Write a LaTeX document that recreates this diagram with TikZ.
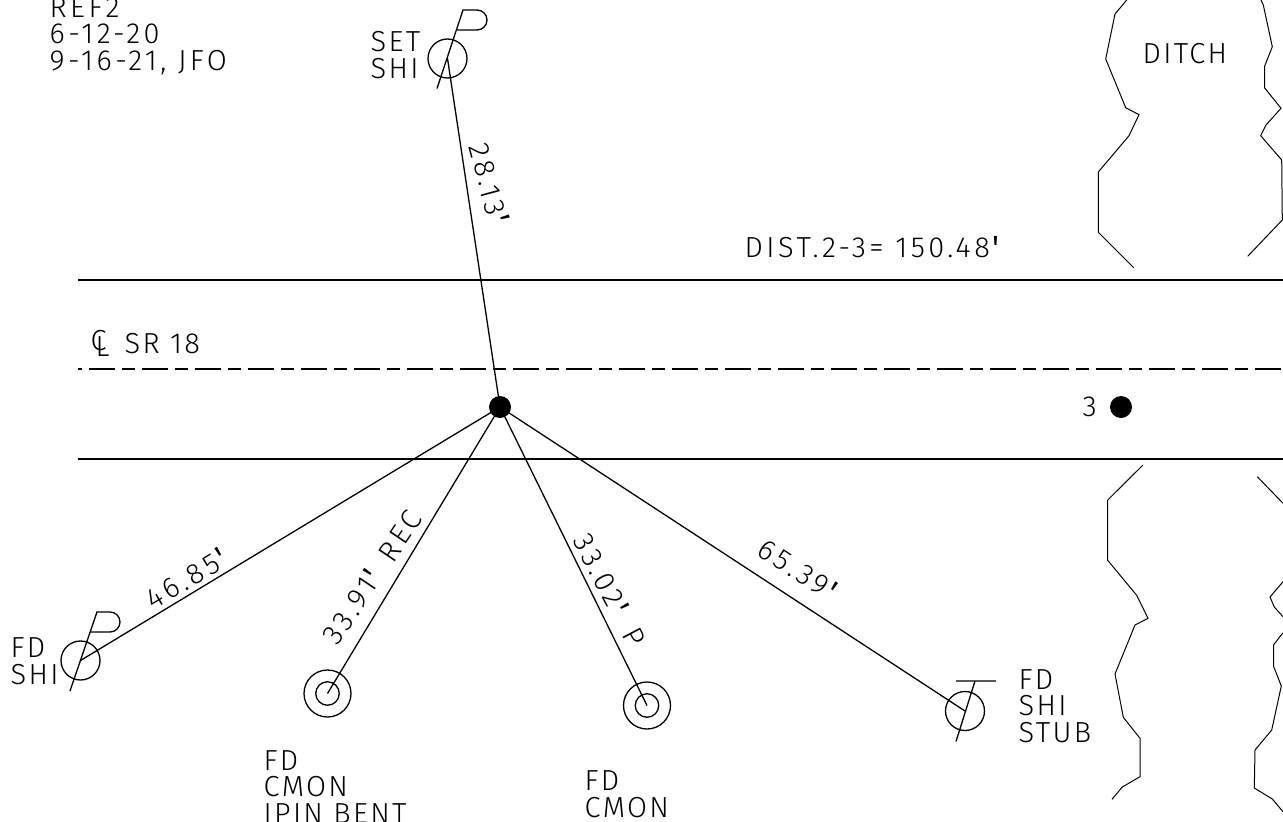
\documentclass[tikz,border=0pt]{standalone}
\usepackage{fontspec}
\setmainfont[LetterSpace=8]{Fira Sans Light}
\newfontfamily\digfont[LetterSpace=12]{Fira Sans Light}
\newfontfamily\tickfont{Liberation Mono}
\newcommand{\ft}{\hspace{-3pt}{\tickfont ′}\hspace{-3pt}}
\tikzset{
  every node/.style={font=\fontsize{29}{26.5}\selectfont},
  lbl/.style={inner sep=0pt,anchor=base west,align=left},
  dimn/.style={inner sep=0pt,anchor=center,font=\fontsize{29}{26.5}\digfont},
  mark1/.style={draw,circle,inner sep=0pt,minimum size=39pt},
  pin/.style={draw,circle,inner sep=0pt,minimum size=47pt},
  pinin/.style={draw,circle,inner sep=0pt,minimum size=23.5pt},
  stn/.style={fill,circle,inner sep=0pt,minimum size=22pt},
}
\begin{document}
\begin{tikzpicture}[x=1pt,y=-1pt,line width=1.3pt]
  \useasboundingbox (0,0) rectangle (1283,822);
  \draw (49,70) node (rf) [lbl,font=\fontsize{29}{26.5}\digfont] {REF2\\6-12-20\\9-16-21, JFO}
    (370,78) node (st) [lbl] {SET\\SHI}
    (1142,63) node (dt) [lbl] {DITCH}
    (744,257) node (ds) [lbl,font=\fontsize{29}{26.5}\digfont] {DIST.2-3= 150.48\ft}
    (124,353) node (sr) [lbl] {SR 18}
    (1082,416) node (n3) [lbl] {3}
    (10,684) node (fs) [lbl] {FD\\SHI}
    (263,823) node (fb) [lbl] {FD\\CMON\\IPIN BENT}
    (584,817) node (fc) [lbl] {FD\\CMON}
    (1018,742) node (fu) [lbl] {FD\\SHI\\STUB};
  \node (cl) [dimn] at (100,343) {\raisebox{3pt}{\rlap{C}}\hspace{5pt}\raisebox{-3pt}{L}};

  \node (pt2) [stn] at (500,407) {};
  \node (pt3) [stn] at (1121,407) {};
  \node (ss) [mark1] at (447.5,58.5) {};
  \node (fd) [mark1] at (80.5,660.5) {};
  \node (sb) [mark1] at (965,711) {};
  \node (c1) [pin] at (327.5,693.5) {};
  \node (c1i) [pinin] at (327.5,693.5) {};
  \node (c2) [pin] at (647,705.5) {};
  \node (c2i) [pinin] at (647,705.5) {};

  \draw (pt2.center) -- (ss.center);
  \draw (pt2.center) -- (fd.center);
  \draw (pt2.center) -- (c1.center);
  \draw (pt2.center) -- (c2.center);
  \draw (pt2.center) -- (sb.center);

  \path (node cs:name=ss,anchor=center) +(-10.5,30) coordinate (ssa) {};
  \path (node cs:name=ss,anchor=center) +(15.5,-48.5) coordinate (ssb) {};
  \draw (ssa) -- (ssb) -- ++(14,0) arc (90:-90:10pt) -- ++(-21,0);
  \path (node cs:name=fd,anchor=center) +(-10.5,30.5) coordinate (fda) {};
  \path (node cs:name=fd,anchor=center) +(16.5,-48.5) coordinate (fdb) {};
  \draw (fda) -- (fdb) -- ++(13,0) arc (90:-90:10pt) -- ++(-19,0);
  \path (node cs:name=sb,anchor=center) +(-9,30.5) coordinate (sba) {};
  \path (node cs:name=sb,anchor=center) +(10,-30) coordinate (sbb) {};
  \draw (sba) -- (sbb) +(-19,0) -- +(21,0);

  \coordinate (rl1) at (78,280);
  \coordinate (rr1) at (1283,280);
  \coordinate (rl2) at (78,459);
  \coordinate (rr2) at (1283,459);
  \coordinate (cll) at (78,369);
  \coordinate (clr) at (1283,369);
  \draw (rl1) -- (rr1);
  \draw (rl2) -- (rr2);
  \draw[dash pattern=on 26pt off 7pt on 13pt off 7pt,dash phase=42pt] (cll) -- (clr);

  \draw[line width=1pt] (1126.7,0) -- (1115,14) -- (1105.7,59) -- (1125.7,107.7) -- (1139,114.7)
    -- (1129,135.7) -- (1098.3,172) -- (1098.3,232.3) -- (1133.7,267.7);
  \draw[line width=1pt] (1261,0) -- (1263.3,5) -- (1272.3,46.7) -- (1264.7,66) -- (1264.7,88)
    -- (1281,108.3) -- (1266,125) -- (1260.7,135.7) -- (1281.7,160) -- (1282.3,220) -- (1247.7,256.3);
  \draw[line width=1pt] (1143,465) -- (1107.7,500) -- (1107.7,560.3) -- (1136.7,595.3) -- (1148,618.3)
    -- (1135,625) -- (1115,674) -- (1123.3,717.3) -- (1140,738.3) -- (1140,776.7) -- (1122.3,787) -- (1112,799.3);
  \draw[line width=1pt] (1257.3,476.7) -- (1283,503.3);
  \draw[line width=1pt] (1283,581.7) -- (1270,597) -- (1274.3,607) -- (1283,616.7);
  \draw[line width=1pt] (1283,632.7) -- (1273.7,644.7) -- (1273.7,666.7) -- (1281.3,686) -- (1271.7,730)
    -- (1255,750) -- (1254.3,788) -- (1272.3,799) -- (1283,811.7);

  \node (d1) [dimn,rotate=-75] at (490,186) {28.13\ft};
  \node (d2) [dimn,rotate=31] at (189,577) {46.85\ft};
  \node (d3) [dimn,rotate=56] at (372,577) {33.91\ft{}\hspace{3pt} REC};
  \node (d4) [dimn,rotate=-62] at (610,590) {33.02\ft{}\hspace{6pt} P};
  \node (d5) [dimn,rotate=-33] at (800,571) {65.39\ft};
\end{tikzpicture}
\end{document}
